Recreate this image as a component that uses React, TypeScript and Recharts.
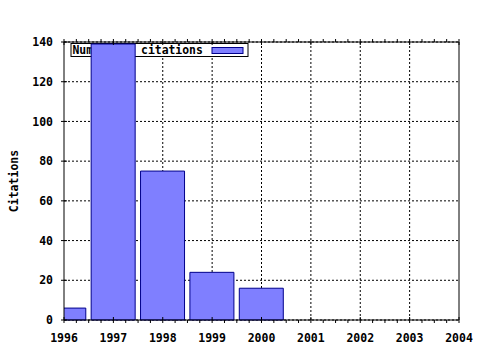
import React from "react";
import { BarChart, Bar, XAxis, YAxis, CartesianGrid } from "recharts";

const years = [1996, 1997, 1998, 1999, 2000];
const citations = [6, 139, 75, 24, 16];
const majorYears = [1996, 1997, 1998, 1999, 2000, 2001, 2002, 2003, 2004];
const yTicks = [0, 20, 40, 60, 80, 100, 120, 140];
const legendLabel = "Number of citations";
const yLabel = "Citations";

const minorYears: number[] = [];
majorYears.forEach((y, i) => {
  minorYears.push(y);
  if (i < majorYears.length - 1) {
    minorYears.push(y + 0.25, y + 0.5, y + 0.75);
  }
});

const data = years.map((y, i) => ({ year: y, citations: citations[i] }));

const FONT = "'DejaVu Sans Mono', monospace";
const BAR_FILL = "#7f7fff";
const BAR_STROKE = "#00008b";

const BottomTick = (props: any) => {
  const { x, y, payload } = props;
  const major = Number.isInteger(payload.value);
  return (
    <g>
      <line x1={x} x2={x} y1={major ? y - 3 : y} y2={y + 3} stroke="#000" />
      {major && (
        <text x={x} y={y + 21.5} textAnchor="middle" fontFamily={FONT} fontWeight="bold" fontSize={11.5} fill="#000">
          {payload.value}
        </text>
      )}
    </g>
  );
};

const TopTick = (props: any) => {
  const { x, y, payload } = props;
  const major = Number.isInteger(payload.value);
  return <line x1={x} x2={x} y1={y - 3} y2={major ? y + 3 : y} stroke="#000" />;
};

const LeftTick = (props: any) => {
  const { x, y, payload } = props;
  return (
    <g>
      <line x1={x - 3} x2={x + 3} y1={y} y2={y} stroke="#000" />
      <text x={x - 11} y={y} dy="0.36em" textAnchor="end" fontFamily={FONT} fontWeight="bold" fontSize={11.5} fill="#000">
        {payload.value}
      </text>
    </g>
  );
};

const gridX = (p: any) => {
  const s = p && p.xAxis && p.xAxis.scale;
  const off = (p && p.offset) || { left: 64, width: 395 };
  const lo = majorYears[0];
  const hi = majorYears[majorYears.length - 1];
  return majorYears.slice(1, -1).map((v) => {
    if (typeof s === "function") return s(v);
    if (s && typeof s.map === "function") return s.map(v);
    return off.left + ((v - lo) / (hi - lo)) * off.width;
  });
};

export default function App() {
  return (
    <div style={{ position: "absolute", left: 0, top: 0, width: 480, height: 350, background: "#fff" }}>
      <BarChart width={480} height={350} data={data} margin={{ top: 0, right: 0, bottom: 0, left: 0 }} barCategoryGap="5%">
        <XAxis
          dataKey="year"
          type="number"
          domain={[1996, 2004]}
          ticks={minorYears}
          interval={0}
          allowDataOverflow
          height={30}
          tickSize={0}
          tickMargin={0}
          tickLine={false}
          tick={<BottomTick />}
          axisLine={{ stroke: "#000" }}
        />
        <XAxis
          xAxisId="top"
          orientation="top"
          dataKey="year"
          type="number"
          domain={[1996, 2004]}
          ticks={minorYears}
          interval={0}
          allowDataOverflow
          height={42}
          tickSize={0}
          tickMargin={0}
          tickLine={false}
          tick={<TopTick />}
          axisLine={{ stroke: "#000" }}
        />
        <YAxis
          type="number"
          domain={[0, 140]}
          ticks={yTicks}
          interval={0}
          width={64}
          tickSize={0}
          tickMargin={0}
          tickLine={false}
          tick={<LeftTick />}
          axisLine={{ stroke: "#000" }}
        />
        <YAxis yAxisId="right" orientation="right" domain={[0, 140]} width={21} tick={false} tickLine={false} axisLine={{ stroke: "#000" }} />
        <CartesianGrid stroke="#000" strokeDasharray="2 2" verticalCoordinatesGenerator={gridX} />
        <g>
          <rect x={71} y={43.5} width={177} height={13} fill="#fff" stroke="#000" />
          <text x={72.5} y={54} fontFamily={FONT} fontWeight="bold" fontSize={11.4} fill="#000">
            {legendLabel}
          </text>
          <rect x={212} y={47.5} width={31} height={6} fill={BAR_FILL} stroke={BAR_STROKE} />
        </g>
        <text
          x={17.5}
          y={181}
          transform="rotate(-90 17.5 181)"
          textAnchor="middle"
          fontFamily={FONT}
          fontWeight="bold"
          fontSize={11.5}
          fill="#000"
        >
          {yLabel}
        </text>
        <Bar dataKey="citations" fill={BAR_FILL} stroke={BAR_STROKE} isAnimationActive={false} />
      </BarChart>
    </div>
  );
}
